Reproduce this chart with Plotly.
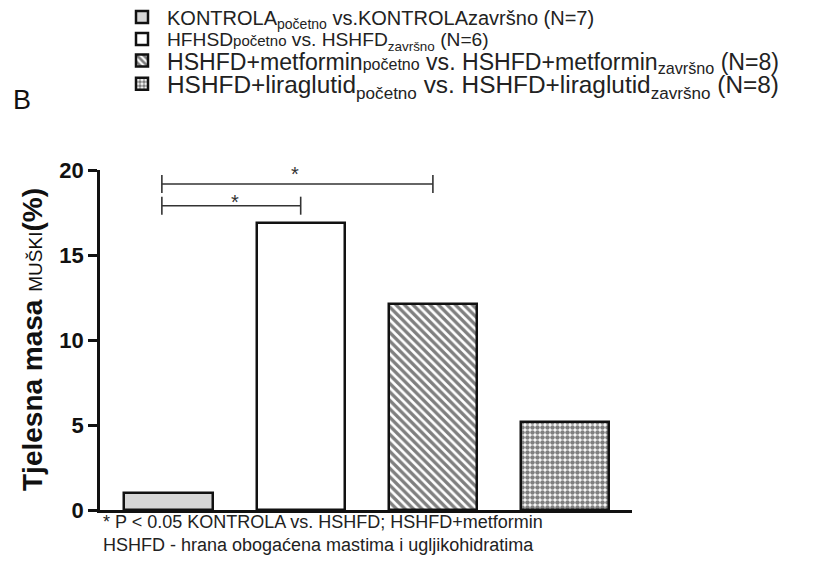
import plotly.graph_objects as go

# Data
groups = ["KONTROLA", "HSHFD", "HSHFD+metformin", "HSHFD+liraglutid"]
values = [1.0, 16.9, 12.1, 5.2]
legend_labels = [
    "KONTROLA<sub>početno</sub> vs.KONTROLAzavršno (N=7)",
    "HFHSD<span style='font-size:15px'>početno</span> vs. HSHFD<sub>završno</sub> (N=6)",
    "HSHFD+metformin<span style='font-size:16px'>početno</span> vs. HSHFD+metformin<sub>završno</sub> (N=8)",
    "HSHFD+liraglutid<sub>početno</sub> vs. HSHFD+liraglutid<sub>završno</sub> (N=8)",
]
y_ticks = [0, 5, 10, 15, 20]
# significance brackets: (from x, to x, line level, star x, star level)
brackets = [(-0.05, 2.0, 19.18, 0.96, 19.75), (-0.05, 1.0, 17.9, 0.5, 18.1)]

fills = ["#d6d6d6", "white", "white", "white"]
patterns = [None, None,
            dict(shape="\\", fgcolor="black", bgcolor="white", size=6, solidity=0.55),
            dict(shape=".", fgcolor="black", bgcolor="white", size=5, solidity=0.65)]

L, R, T, B = 100, 189, 170, 53
W, H = 821, 563
pw, ph = W - L - R, H - T - B


def px_x(px):
    return (px - L) / pw


def px_y(py):
    return (H - B - py) / ph


legend_rows_px = [17, 39, 61, 84]
legend_sizes = [20, 19.2, 23.1, 24.4]
legend_ids = ["legend", "legend2", "legend3", "legend4"]

fig = go.Figure()
for i, g in enumerate(groups):
    marker = dict(color=fills[i], line=dict(color="#111111", width=2.5))
    if patterns[i] is not None:
        marker["pattern"] = patterns[i]
    fig.add_trace(go.Bar(x=[i], y=[values[i]], name=legend_labels[i], width=0.666,
                         marker=marker, showlegend=True, legend=legend_ids[i]))

for (a, b, yl, xs, ys) in brackets:
    fig.add_shape(type="line", x0=a, x1=b, y0=yl, y1=yl, line=dict(color="#333", width=1.6))
    for xx in (a, b):
        fig.add_shape(type="line", x0=xx, x1=xx, y0=yl - 0.53, y1=yl + 0.53,
                      line=dict(color="#333", width=1.6))
    fig.add_annotation(x=xs, y=ys, text="*", showarrow=False,
                       font=dict(size=20, color="#333"), yanchor="middle")

fig.add_annotation(xref="paper", yref="paper", x=px_x(101), y=px_y(522), xanchor="left", yanchor="middle",
                   text="* P < 0.05 KONTROLA vs. HSHFD; HSHFD+metformin", showarrow=False,
                   font=dict(size=18, color="#222"))
fig.add_annotation(xref="paper", yref="paper", x=px_x(101), y=px_y(545), xanchor="left", yanchor="middle",
                   text="HSHFD - hrana obogaćena mastima i ugljikohidratima", showarrow=False,
                   font=dict(size=18, color="#222"))
fig.add_annotation(xref="paper", yref="paper", x=px_x(22), y=px_y(100), xanchor="center", yanchor="middle",
                   text="B", showarrow=False, font=dict(size=27, color="#111"))
fig.add_annotation(xref="paper", yref="paper", x=px_x(32), y=0.5, xanchor="center", yanchor="middle",
                   textangle=-90, showarrow=False,
                   text="<b>Tjelesna masa </b><span style='font-size:19px'>MUŠKI</span><b>(%)</b>",
                   font=dict(size=28, color="#111"))

legend_layout = {}
for lid, py, fs in zip(legend_ids, legend_rows_px, legend_sizes):
    legend_layout[lid] = dict(xref="paper", yref="paper", xanchor="left", yanchor="middle",
                              font=dict(size=fs, color="#222"), bgcolor="rgba(0,0,0,0)",
                              itemclick=False, itemdoubleclick=False, itemwidth=40,
                              x=px_x(117), y=px_y(py))

fig.update_layout(
    width=W, height=H,
    margin=dict(l=L, r=R, t=T, b=B, autoexpand=False),
    paper_bgcolor="white", plot_bgcolor="white",
    font=dict(family="Arial, Liberation Sans, sans-serif", color="#111"),
    bargap=0,
    xaxis=dict(range=[-0.518, 3.506], showticklabels=False, ticks="", showgrid=False,
               zeroline=False, showline=True, linecolor="#111", linewidth=2.5, automargin=False),
    yaxis=dict(range=[0, 20], tickvals=y_ticks, ticks="outside", ticklen=9, tickwidth=2.5,
               tickcolor="#111", showgrid=False, zeroline=False, showline=True,
               linecolor="#111", linewidth=2.5, automargin=False,
               tickfont=dict(size=22, family="Arial, Liberation Sans", weight="bold", color="#111")),
    **legend_layout,
)
fig.write_html("out.html", config={"displayModeBar": False},
               post_script="document.body.style.margin='0px';")
